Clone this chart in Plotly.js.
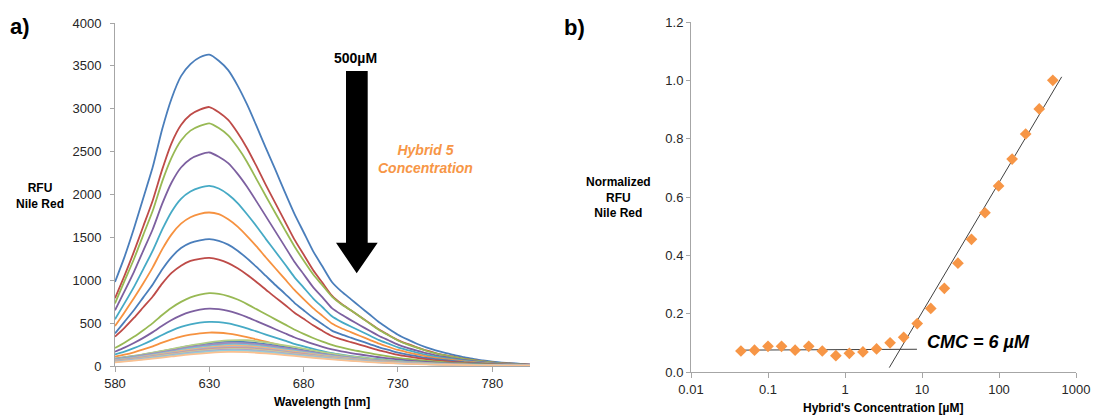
<!DOCTYPE html>
<html>
<head>
<meta charset="utf-8">
<script src="https://cdn.plot.ly/plotly-3.0.1.min.js"></script>
<style>html,body{margin:0;padding:0;background:#fff;}#chart{width:1094px;height:416px;}</style>
</head>
<body>
<div id="chart"></div>
<script>
// ---------- Panel a: emission spectra (RFU vs wavelength) ----------
const wavelength = [580,585,590,595,600,605,610,615,620,625,630,635,640,645,650,655,660,665,670,675,680,685,690,695,700,705,710,715,720,725,730,735,740,745,750,755,760,765,770,775,780,785,790,795,800];
const wavelengthCoarse = [580,590,600,610,620,630,640,650,660,670,680,690,700,710,720,730,740,750,760,770,780,790,800];

const rfu01 = [980,1270,1600,1960,2320,2760,3120,3380,3520,3600,3630,3560,3450,3270,3050,2800,2540,2290,2030,1780,1560,1340,1160,980,870,780,690,600,510,435,365,310,260,218,182,152,127,102,84,65,51,40,33,25,18];
const rfu02 = [790,1050,1330,1630,1930,2290,2600,2810,2930,2990,3020,2960,2870,2720,2540,2330,2110,1900,1690,1480,1300,1120,970,820,725,650,575,500,425,362,302,257,218,181,151,127,106,85,69,54,42,33,27,21,15];
const rfu03 = [730,990,1245,1530,1810,2150,2430,2630,2745,2800,2830,2775,2690,2550,2380,2180,1980,1785,1590,1400,1230,1070,940,810,720,650,575,495,420,358,298,253,214,178,148,124,103,83,68,53,41,32,26,20,14];
const rfu04 = [650,870,1095,1345,1595,1890,2140,2315,2415,2465,2490,2440,2365,2240,2090,1920,1745,1570,1395,1220,1070,920,800,675,600,535,473,410,350,300,250,212,180,150,125,105,87,70,57,45,35,27,22,17,12];
const rfu05 = [545,730,920,1130,1345,1590,1800,1950,2035,2080,2100,2070,2000,1900,1770,1630,1480,1335,1190,1040,915,790,685,580,515,460,408,355,302,260,217,185,157,131,110,92,77,62,51,40,31,25,20,15,11];
const rfu06 = [466,625,790,965,1150,1360,1535,1660,1735,1775,1790,1770,1710,1625,1515,1395,1265,1140,1015,890,780,675,585,495,440,395,350,305,260,223,187,160,135,113,95,80,67,54,45,35,28,22,18,14,10];
const rfu07 = [381,515,650,800,950,1125,1270,1375,1435,1465,1480,1460,1415,1345,1255,1155,1050,945,845,740,650,562,487,413,368,330,293,256,218,188,157,134,114,95,80,67,56,45,37,29,23,18,15,12,9];
const rfu08 = [342,445,560,685,810,960,1085,1170,1225,1250,1260,1240,1200,1140,1065,980,890,800,715,625,550,475,410,350,310,278,247,215,183,157,131,112,95,79,66,56,46,37,31,24,19,15,12,10,7];
const rfu09 = [210,272,340,417,500,595,680,748,800,833,850,842,816,775,722,663,604,544,485,425,374,327,285,247,217,191,170,149,129,112,96,82,71,60,51,43,37,31,26,21,17,14,11,9,8];
const rfu10 = [167,214,268,328,395,469,536,590,630,657,670,663,643,610,570,523,476,429,382,335,295,258,224,194,171,151,134,117,102,88,76,65,56,48,40,34,29,24,20,17,13,11,9,7,6];
const rfu11 = [136,168,208,254,305,362,413,455,485,506,515,512,496,470,440,403,367,331,295,258,228,199,173,150,132,116,103,90,79,68,58,50,43,37,31,26,22,19,16,13,10,8,7,6,5];
const rfu12 = [108,132,160,193,230,272,310,343,365,380,390,388,378,360,337,310,283,256,229,202,178,156,136,118,104,92,82,72,63,55,47,41,35,30,26,22,18,15,13,11,9,7,6,5,4];
const rfu13 = [86,117,154,194,234,265,285,279,254,219,185,148,117,91,68,51,38,29,21,15,11,8,6];
const rfu14 = [77,105,138,173,209,237,255,250,227,196,166,133,105,82,61,46,34,26,18,14,10,7,5];
const rfu15 = [84,117,156,198,240,276,298,300,275,240,203,163,128,99,74,55,41,31,22,16,12,8,6];
const rfu16 = [78,108,143,181,219,250,268,265,242,210,177,142,112,87,65,49,36,27,19,14,10,7,5];
const rfu17 = [72,100,133,168,204,232,250,246,224,194,163,131,103,80,60,45,34,25,18,13,10,7,5];
const rfu18 = [66,93,124,158,192,218,235,232,210,182,153,123,97,75,56,42,32,24,17,12,9,6,5];
const rfu19 = [62,88,117,149,180,205,220,217,197,170,144,115,91,71,53,40,30,22,16,12,8,6,4];
const rfu20 = [58,83,111,142,172,196,210,207,188,163,137,110,87,67,50,38,28,21,15,11,8,6,4];
const rfu21 = [54,78,105,135,164,186,200,197,179,155,130,105,82,64,48,36,27,20,14,11,8,5,4];
const rfu22 = [50,73,99,128,156,177,190,187,170,147,124,99,78,61,46,34,26,19,14,10,7,5,4];
const rfu23 = [46,68,94,121,148,168,180,177,161,139,117,94,74,58,43,32,24,18,13,10,7,5,4];
const rfu24 = [42,62,86,111,136,154,165,162,147,127,107,86,68,53,40,30,22,17,12,9,6,5,3];

const spectraColors = ['#4A7EBB','#BE4B48','#98B954','#7D60A0','#46AAC5','#F69240',
                       '#4A7EBB','#BE4B48','#98B954','#7D60A0','#46AAC5','#F69240',
                       '#4F81BD','#C0504D','#B3CE86','#A08BBD','#7FC4D6','#F9B27A',
                       '#95B3D7','#D99694','#C3D69B','#B3A2C7','#93CDDD','#FAC090'];

const xTicksA = [580,630,680,730,780];
const yTicksA = [0,500,1000,1500,2000,2500,3000,3500,4000];

// ---------- Panel b: normalized RFU vs concentration ----------
const concentration = [0.0445,0.0668,0.100,0.150,0.225,0.338,0.507,0.761,1.14,1.71,2.57,3.85,5.78,8.67,13.0,19.5,29.3,43.9,65.8,98.8,148,222,333,500];
const normRFU = [0.072,0.075,0.088,0.088,0.075,0.088,0.072,0.056,0.064,0.069,0.079,0.100,0.119,0.166,0.218,0.287,0.373,0.455,0.546,0.638,0.730,0.816,0.902,1.000];
const trendLowX = [0.0445, 8.6];
const trendLowY = [0.075, 0.078];
const trendHighX = [3.76, 652];
const trendHighY = [0.015, 1.012];
const xTicksB = [0.01,0.1,1,10,100,1000];
const xTickTextB = ['0.01','0.1','1','10','100','1000'];
const yTicksB = [0,0.2,0.4,0.6,0.8,1.0,1.2];
const yTickTextB = ['0.0','0.2','0.4','0.6','0.8','1.0','1.2'];

const fine = [rfu01,rfu02,rfu03,rfu04,rfu05,rfu06,rfu07,rfu08,rfu09,rfu10,rfu11,rfu12];
const coarse = [rfu13,rfu14,rfu15,rfu16,rfu17,rfu18,rfu19,rfu20,rfu21,rfu22,rfu23,rfu24];

const traces = [];
fine.forEach((ys,i)=>traces.push({x:wavelength,y:ys,type:'scatter',mode:'lines',xaxis:'x',yaxis:'y',
  line:{color:spectraColors[i],width:1.8,shape:'spline',smoothing:0.6},hoverinfo:'skip',showlegend:false}));
coarse.forEach((ys,i)=>traces.push({x:wavelengthCoarse,y:ys,type:'scatter',mode:'lines',xaxis:'x',yaxis:'y',
  line:{color:spectraColors[12+i],width:1.8,shape:'spline',smoothing:0.8},hoverinfo:'skip',showlegend:false}));

traces.push({x:trendLowX,y:trendLowY,type:'scatter',mode:'lines',xaxis:'x2',yaxis:'y2',line:{color:'#404040',width:1},showlegend:false});
traces.push({x:trendHighX,y:trendHighY,type:'scatter',mode:'lines',xaxis:'x2',yaxis:'y2',line:{color:'#404040',width:1},showlegend:false});
traces.push({x:concentration,y:normRFU,type:'scatter',mode:'markers',xaxis:'x2',yaxis:'y2',
  marker:{symbol:'diamond',size:9,color:'#F79646'},showlegend:false});

const tickFont = {family:'Liberation Sans, Arial, sans-serif',size:13,color:'#262626'};
const axisCommon = {showgrid:false,zeroline:false,showline:true,linecolor:'#A6A6A6',linewidth:1,
  ticks:'outside',tickcolor:'#A6A6A6',tickfont:tickFont,fixedrange:true};

const W=1094,H=416;
const px = v=>v/W, py = v=>1-v/H;

const boldFont = (s,c)=>({family:'Liberation Sans, Arial, sans-serif',size:s,color:c||'#000'});
const note = (text,x,y,font)=>({text:text,x:px(x),y:py(y),xref:'paper',yref:'paper',showarrow:false,
  xanchor:'center',yanchor:'middle',align:'center',font:font});

const layout = {
  width:W,height:H,margin:{l:0,r:0,t:0,b:0},paper_bgcolor:'#fff',plot_bgcolor:'rgba(0,0,0,0)',
  showlegend:false,
  xaxis:Object.assign({},axisCommon,{domain:[px(115),px(530)],range:[580,800],tickvals:xTicksA,ticklen:5,anchor:'y'}),
  yaxis:Object.assign({},axisCommon,{domain:[py(366),py(23)],range:[0,4000],tickvals:yTicksA,ticklen:4,ticklabelstandoff:6,anchor:'x'}),
  xaxis2:Object.assign({},axisCommon,{type:'log',domain:[px(691),px(1076)],range:[-2,3],tickvals:xTicksB,ticktext:xTickTextB,ticklen:5,anchor:'y2'}),
  yaxis2:Object.assign({},axisCommon,{domain:[py(372),py(22)],range:[0,1.2],tickvals:yTicksB,ticktext:yTickTextB,ticklen:4,anchor:'x2'}),
  shapes:[{type:'path',xref:'paper',yref:'paper',fillcolor:'#000',line:{width:0},
    path:`M ${px(346)} ${py(71)} L ${px(367.7)} ${py(71)} L ${px(367.7)} ${py(242.7)} L ${px(377.7)} ${py(242.7)} L ${px(356.7)} ${py(273.3)} L ${px(336)} ${py(242.7)} L ${px(346)} ${py(242.7)} Z`}],
  annotations:[
    note('<b>a)</b>',20,26,boldFont(22)),
    note('<b>b)</b>',574,28,boldFont(22)),
    note('<b>RFU<br>Nile Red</b>',40,196,boldFont(12)),
    note('<b>Wavelength [nm]</b>',322,402,boldFont(12)),
    note('<b>500µM</b>',355,58,boldFont(14)),
    note('<b><i>Hybrid 5<br>Concentration</i></b>',425,159,boldFont(14,'#F79646')),
    note('<b>Normalized<br>RFU<br>Nile Red</b>',618,197,boldFont(12)),
    note("<b>Hybrid's Concentration [µM]</b>",883,408,boldFont(12)),
    note('<b><i>CMC = 6 µM</i></b>',978,342,boldFont(18))
  ]
};

Plotly.newPlot('chart',traces,layout,{staticPlot:true,displayModeBar:false});
</script>
</body>
</html>
